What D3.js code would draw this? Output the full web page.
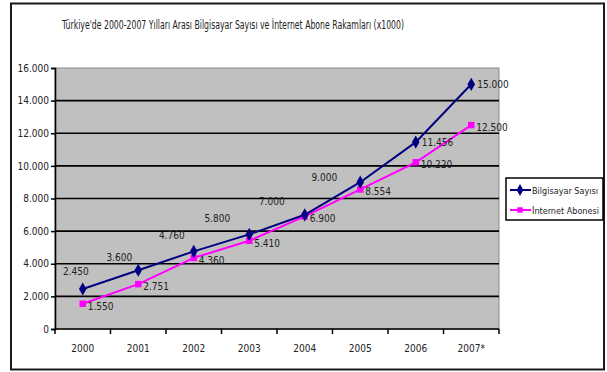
<!DOCTYPE html>
<html>
<head>
<meta charset="utf-8">
<script src="https://cdn.jsdelivr.net/npm/d3@7"></script>
<style>
  html, body { margin: 0; padding: 0; background: #fff; }
  svg { display: block; }
  text { font-family: "Liberation Sans Narrow", "DejaVu Sans Condensed", "DejaVu Sans", sans-serif; font-stretch: condensed; fill: #222; }
</style>
</head>
<body>
<svg id="chart" width="607" height="372"></svg>
<script>
// ---- data ----
const years = ["2000", "2001", "2002", "2003", "2004", "2005", "2006", "2007*"];
const bilgisayar = [2450, 3600, 4760, 5800, 7000, 9000, 11456, 15000];
const internet = [1550, 2751, 4360, 5410, 6900, 8554, 10220, 12500];
const yTicks = [0, 2000, 4000, 6000, 8000, 10000, 12000, 14000, 16000];
const seriesNames = ["Bilgisayar Sayısı", "İnternet Abonesi"];
const title = "Türkiye'de 2000-2007 Yılları Arası Bilgisayar Sayısı ve İnternet Abone Rakamları (x1000)";

// label placement (layout, not data)
const bilLabelOffsets = [[-7,-18],[-19,-13],[-22,-16],[-32,-16],[-33,-14],[-36,-5],[null,0],[null,0]];

const svg = d3.select("#chart");
const m = { left: 55, right: 499, top: 68, bottom: 329 };
const FONT = 10;

// outer frame
svg.append("rect").attr("x", 11).attr("y", 3.5).attr("width", 593).attr("height", 366)
  .attr("fill", "#fff").attr("stroke", "#1a1a1a").attr("stroke-width", 2);

// title
svg.append("text").attr("x", 233).attr("y", 29).attr("text-anchor", "middle")
  .attr("font-size", 11.5).attr("textLength", 342).attr("lengthAdjust", "spacingAndGlyphs")
  .text(title);

const x = d3.scaleBand().domain(years).range([m.left, m.right]).paddingInner(0).paddingOuter(0);
const y = d3.scaleLinear().domain([0, 16000]).range([m.bottom, m.top]);
const fmt = v => d3.format(",")(v).replace(/,/g, ".");

// plot area
svg.append("rect").attr("x", m.left).attr("y", m.top).attr("width", m.right - m.left).attr("height", m.bottom - m.top)
  .attr("fill", "#c0c0c0").attr("stroke", "#8a8a8a").attr("stroke-width", 1);

// gridlines
svg.append("g").selectAll("line").data(yTicks.filter(t => t > 0 && t < 16000)).join("line")
  .attr("x1", m.left).attr("x2", m.right)
  .attr("y1", d => y(d)).attr("y2", d => y(d))
  .attr("stroke", "#000").attr("stroke-width", 1.6);

// y axis
const yAxis = d3.axisLeft(y).tickValues(yTicks).tickFormat(fmt).tickSize(4).tickPadding(2);
const gy = svg.append("g").attr("transform", `translate(${m.left},0)`).call(yAxis);
gy.attr("font-family", null).attr("font-size", null);
gy.select(".domain").attr("stroke", "#000").attr("stroke-width", 1.6);
gy.selectAll(".tick line").attr("stroke", "#000").attr("stroke-width", 1.5);
gy.selectAll(".tick text").attr("font-size", FONT).attr("fill", "#222");

// x axis: ticks at band boundaries
const gx = svg.append("g").attr("transform", `translate(0,${m.bottom})`);
gx.append("line").attr("x1", m.left).attr("x2", m.right).attr("y1", 0).attr("y2", 0)
  .attr("stroke", "#000").attr("stroke-width", 1.6);
const bounds = years.map(d => x(d)).concat([x(years[years.length - 1]) + x.bandwidth()]);
gx.selectAll("line.tk").data(bounds).join("line").attr("class", "tk")
  .attr("x1", d => d).attr("x2", d => d).attr("y1", 0).attr("y2", 5)
  .attr("stroke", "#000").attr("stroke-width", 1.5);
gx.selectAll("text").data(years).join("text")
  .attr("x", d => x(d) + x.bandwidth() / 2).attr("y", 23)
  .attr("text-anchor", "middle").attr("font-size", FONT).text(d => d);

const cx = d => x(d) + x.bandwidth() / 2;
const line = d3.line().x(d => cx(d.year)).y(d => y(d.v));

const bilData = years.map((yr, i) => ({ year: yr, v: bilgisayar[i], i }));
const intData = years.map((yr, i) => ({ year: yr, v: internet[i], i }));

svg.append("path").datum(intData).attr("d", line).attr("fill", "none")
  .attr("stroke", "#ff00ff").attr("stroke-width", 2);
svg.append("path").datum(bilData).attr("d", line).attr("fill", "none")
  .attr("stroke", "#000080").attr("stroke-width", 2);

svg.append("g").selectAll("path").data(intData).join("path")
  .attr("d", d3.symbol(d3.symbolSquare, 42))
  .attr("transform", d => `translate(${cx(d.year)},${y(d.v)})`)
  .attr("fill", "#ff00ff");
svg.append("g").selectAll("path").data(bilData).join("path")
  .attr("d", d3.symbol(d3.symbolDiamond, 50))
  .attr("transform", d => `translate(${cx(d.year)},${y(d.v)})`)
  .attr("fill", "#000080");

// data labels
svg.append("g").selectAll("text").data(intData).join("text")
  .attr("x", d => cx(d.year) + 5).attr("y", d => y(d.v) + 6)
  .attr("font-size", FONT).text(d => fmt(d.v));
svg.append("g").selectAll("text").data(bilData).join("text")
  .attr("x", d => {
    const o = bilLabelOffsets[d.i];
    return o[0] === null ? cx(d.year) + 6 : cx(d.year) + o[0];
  })
  .attr("y", d => y(d.v) + bilLabelOffsets[d.i][1] + 4)
  .attr("text-anchor", d => bilLabelOffsets[d.i][0] === null ? "start" : "middle")
  .attr("font-size", FONT).text(d => fmt(d.v));

// legend
const lg = svg.append("g");
lg.append("rect").attr("x", 506).attr("y", 178).attr("width", 97).attr("height", 42)
  .attr("fill", "#fff").attr("stroke", "#000").attr("stroke-width", 1.5);
const legendItems = [
  { name: seriesNames[0], color: "#000080", sym: d3.symbolDiamond, size: 40 },
  { name: seriesNames[1], color: "#ff00ff", sym: d3.symbolSquare, size: 30 }
];
legendItems.forEach((it, i) => {
  const ly = 190 + i * 20;
  lg.append("line").attr("x1", 510).attr("x2", 531).attr("y1", ly).attr("y2", ly)
    .attr("stroke", it.color).attr("stroke-width", 2);
  lg.append("path").attr("d", d3.symbol(it.sym, it.size)).attr("transform", `translate(520,${ly})`).attr("fill", it.color);
  lg.append("text").attr("x", 532).attr("y", ly + 3.5).attr("font-size", 9).text(it.name);
});
</script>
</body>
</html>
